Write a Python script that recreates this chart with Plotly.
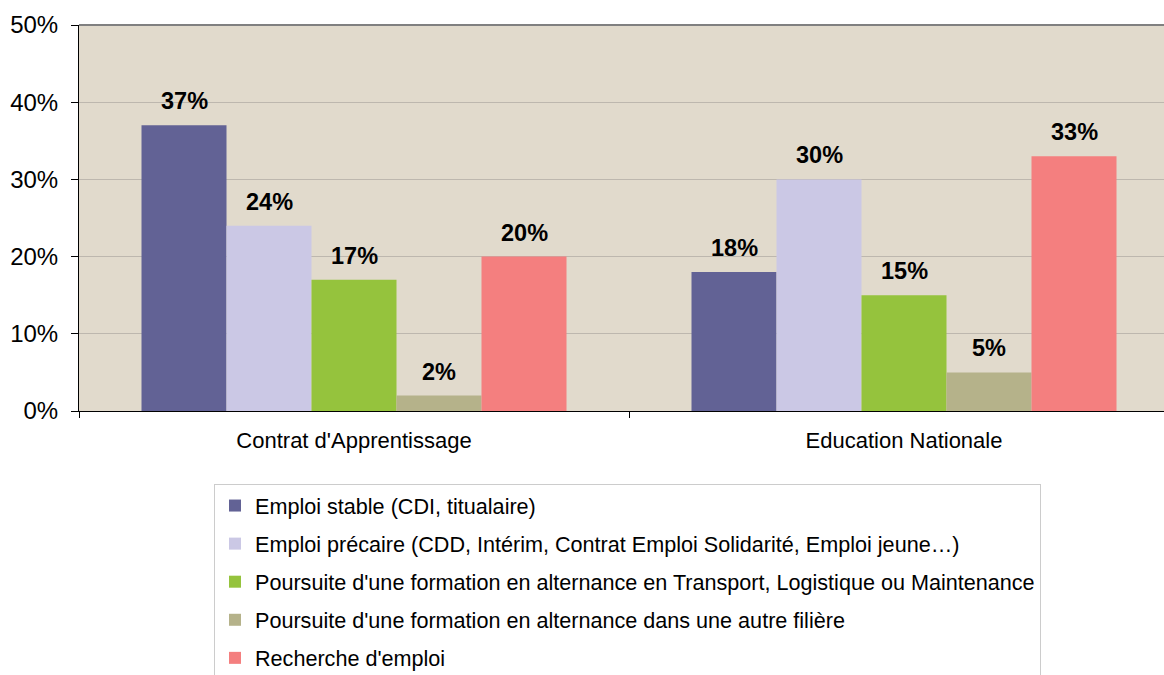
import plotly.graph_objects as go

categories = ["Contrat d'Apprentissage", "Education Nationale"]
series_names = [
    "Emploi stable (CDI, titualaire)",
    "Emploi précaire (CDD, Intérim, Contrat Emploi Solidarité, Emploi jeune…)",
    "Poursuite d'une formation en alternance en Transport, Logistique ou Maintenance",
    "Poursuite d'une formation en alternance dans une autre filière",
    "Recherche d'emploi",
]
emploi_stable = [0.37, 0.18]
emploi_precaire = [0.24, 0.30]
poursuite_tlm = [0.17, 0.15]
poursuite_autre = [0.02, 0.05]
recherche = [0.20, 0.33]
series_values = [emploi_stable, emploi_precaire, poursuite_tlm, poursuite_autre, recherche]
colors = ["#626295", "#CBC8E5", "#95C33D", "#B5B28A", "#F47F7F"]
y_ticks = [0, 0.1, 0.2, 0.3, 0.4, 0.5]

W, H = 1164, 675
ML, MT, MB = 79, 25, 264
cat_px = 550.0
plot_w = W - ML
plot_h = H - MT - MB
FONT = "Liberation Sans, Arial, sans-serif"

fig = go.Figure()
for i, (name, vals, col) in enumerate(zip(series_names, series_values, colors)):
    fig.add_trace(go.Bar(
        x=categories, y=vals, name=name, marker=dict(color=col, line=dict(width=0)),
        legendgroup=f"g{i}", hoverinfo="skip",
    ))

n = len(series_names)
bargap = 125 / 550
bar_w = cat_px * (1 - bargap) / n
annotations = []
for i, vals in enumerate(series_values):
    for c, v in zip(categories, vals):
        annotations.append(dict(
            x=c, y=v, xref="x", yref="y", text=f"<b>{round(v*100)}%</b>",
            showarrow=False, xshift=(i - (n - 1) / 2) * bar_w, yshift=24,
            yanchor="middle", font=dict(size=23.5, color="black", family=FONT),
        ))

fig.update_layout(
    width=W, height=H,
    margin=dict(l=ML, r=0, t=MT, b=MB, pad=0, autoexpand=False),
    paper_bgcolor="white",
    plot_bgcolor="#E1DACC",
    barmode="group", bargap=bargap, bargroupgap=0,
    font=dict(family=FONT, color="black"),
    annotations=annotations,
    showlegend=True,
    legend=dict(
        x=(214 - ML) / plot_w, xanchor="left",
        y=(411 - 484) / plot_h, yanchor="top",
        bgcolor="white", bordercolor="#CCCCCC", borderwidth=1,
        font=dict(size=21.6, color="black", family=FONT),
        tracegroupgap=7, traceorder="grouped",
    ),
    shapes=[dict(type="line", xref="paper", yref="paper", x0=0, x1=1, y0=1, y1=1,
                 line=dict(color="#808080", width=2))],
)

fig.update_xaxes(
    type="category", range=[-0.5, -0.5 + plot_w / cat_px],
    showline=True, linecolor="black", linewidth=1,
    ticks="outside", tickson="boundaries", ticklen=6, tickcolor="black",
    tickfont=dict(size=22, color="black"), ticklabelstandoff=10,
    showgrid=False, zeroline=False, fixedrange=True, automargin=False,
)
fig.update_yaxes(
    range=[0, 0.5], tickvals=y_ticks, tickformat=".0%",
    showline=True, linecolor="black", linewidth=1,
    ticks="outside", ticklen=7, tickcolor="black",
    tickfont=dict(size=24, color="black"), ticklabelstandoff=8,
    showgrid=True, gridcolor="#BDB7AE", gridwidth=1, zeroline=False, automargin=False,
)

fig.write_html("out.html", config={"displayModeBar": False, "staticPlot": True},
               post_script="document.body.style.margin='0';document.body.style.overflow='hidden';")
